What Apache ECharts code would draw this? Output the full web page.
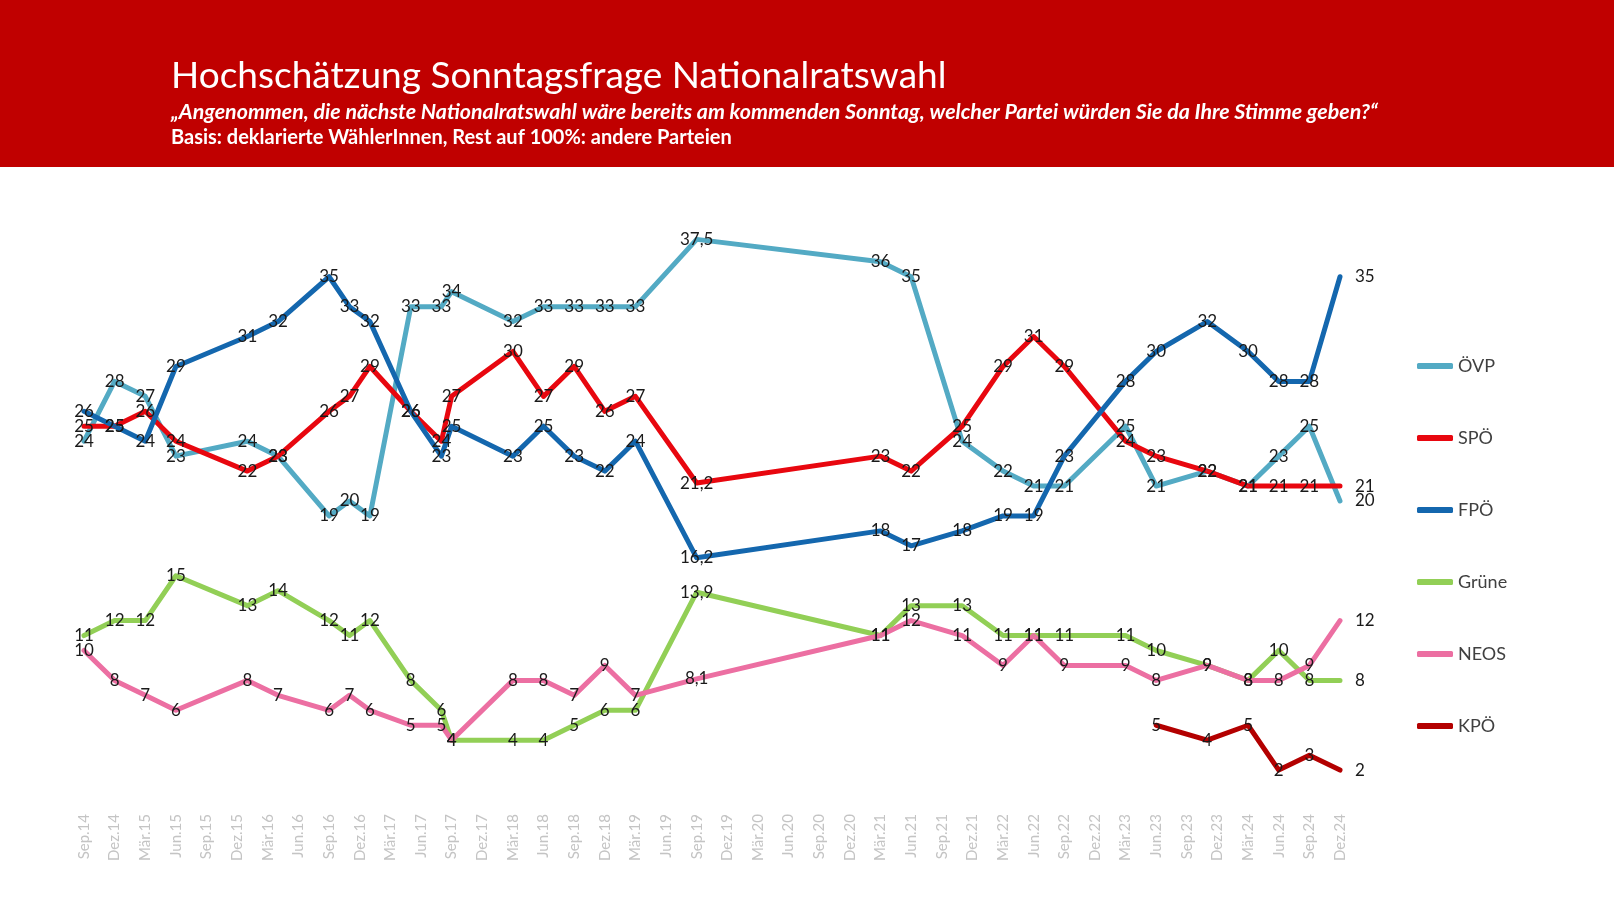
<!DOCTYPE html>
<html><head><meta charset="utf-8">
<script src="https://cdn.jsdelivr.net/npm/echarts@6/dist/echarts.min.js"></script>
<style>html,body{margin:0;padding:0;background:#fff}#c{width:1616px;height:909px}</style>
</head><body><div id="c"></div>
<script>
const tickLabels = ['Sep.14','Dez.14','Mär.15','Jun.15','Sep.15','Dez.15','Mär.16','Jun.16','Sep.16','Dez.16',
  'Mär.17','Jun.17','Sep.17','Dez.17','Mär.18','Jun.18','Sep.18','Dez.18','Mär.19','Jun.19','Sep.19','Dez.19',
  'Mär.20','Jun.20','Sep.20','Dez.20','Mär.21','Jun.21','Sep.21','Dez.21','Mär.22','Jun.22','Sep.22','Dez.22',
  'Mär.23','Jun.23','Sep.23','Dez.23','Mär.24','Jun.24','Sep.24','Dez.24'];
// survey dates as months since Sep. 2014
const months = [0,3,6,9,16,19,24,26,28,32,35,36,42,45,48,51,54,60,78,81,86,90,93,96,102,105,110,114,117,120,123];
const ovp   = [24,28,27,23,24,23,19,20,19,33,33,34,32,33,33,33,33,37.5,36,35,24,22,21,21,25,21,22,21,23,25,20];
const spo   = [25,25,26,24,22,23,26,27,29,26,24,27,30,27,29,26,27,21.2,23,22,25,29,31,29,24,23,22,21,21,21,21];
const fpo   = [26,25,24,29,31,32,35,33,32,26,23,25,23,25,23,22,24,16.2,18,17,18,19,19,23,28,30,32,30,28,28,35];
const grune = [11,12,12,15,13,14,12,11,12,8,6,4,4,4,5,6,6,13.9,11,13,13,11,11,11,11,10,9,8,10,8,8];
const neos  = [10,8,7,6,8,7,6,7,6,5,5,4,8,8,7,9,7,8.1,11,12,11,9,11,9,9,8,9,8,8,9,12];
const kpo   = [null,null,null,null,null,null,null,null,null,null,null,null,null,null,null,null,null,null,null,null,null,null,null,null,null,5,4,5,2,3,2];

const FONT = 'Lato, "Open Sans", sans-serif';
function mk(name, values, color) {
  const pts = [];
  months.forEach((m, i) => { if (values[i] != null) pts.push([m, values[i]]); });
  const data = pts.map((p, i) => i === pts.length - 1
    ? { value: p, label: { position: 'right', distance: 14 } }
    : { value: p });
  return {
    name, type: 'line', data,
    symbol: 'circle', symbolSize: 2, showSymbol: true,
    lineStyle: { width: 5, color, cap: 'round', join: 'round' },
    itemStyle: { color },
    label: { show: true, position: 'inside', color: '#1a1a1a', fontSize: 17, fontFamily: FONT,
      formatter: p => String(p.value[1]).replace('.', ',') },
    emphasis: { disabled: true },
    animation: false
  };
}

const chart = echarts.init(document.getElementById('c'));
chart.setOption({
  animation: false,
  graphic: [
    { type: 'rect', shape: { x: 0, y: 0, width: 1614, height: 167 }, style: { fill: '#C00000' }, z: -1 },
    { type: 'text', left: 171, top: 58, style: { text: 'Hochschätzung Sonntagsfrage Nationalratswahl',
      fill: '#fff', font: '37px ' + FONT } },
    { type: 'text', left: 171, top: 102, style: { text: '„Angenommen, die nächste Nationalratswahl wäre bereits am kommenden Sonntag, welcher Partei würden Sie da Ihre Stimme geben?“',
      fill: '#fff', font: 'italic bold 21.4px ' + FONT } },
    { type: 'text', left: 171, top: 128, style: { text: 'Basis: deklarierte WählerInnen, Rest auf 100%: andere Parteien',
      fill: '#fff', font: 'bold 20px ' + FONT } }
  ],
  grid: { left: 84, right: 276, top: 202, bottom: 109 },
  xAxis: {
    type: 'value', min: 0, max: 123, interval: 3,
    axisLine: { show: false }, axisTick: { show: false }, splitLine: { show: false },
    axisLabel: { rotate: 90, margin: 14, color: '#C4C4C4', fontSize: 15, fontFamily: FONT,
      formatter: v => tickLabels[Math.round(v / 3)] || '' }
  },
  yAxis: { type: 'value', min: 0, max: 40, show: false },
  legend: {
    orient: 'vertical', left: 1412, top: 351, itemGap: 52, itemWidth: 36, itemHeight: 6,
    icon: 'roundRect',
    textStyle: { color: '#404040', fontSize: 18, fontFamily: FONT, lineHeight: 20 },
    data: ['ÖVP', 'SPÖ', 'FPÖ', 'Grüne', 'NEOS', 'KPÖ']
  },
  series: [
    mk('ÖVP', ovp, '#53AAC4'),
    mk('SPÖ', spo, '#E8070F'),
    mk('FPÖ', fpo, '#1467AE'),
    mk('Grüne', grune, '#92CF56'),
    mk('NEOS', neos, '#EC6FA2'),
    mk('KPÖ', kpo, '#B30000')
  ]
});
</script>
</body></html>
